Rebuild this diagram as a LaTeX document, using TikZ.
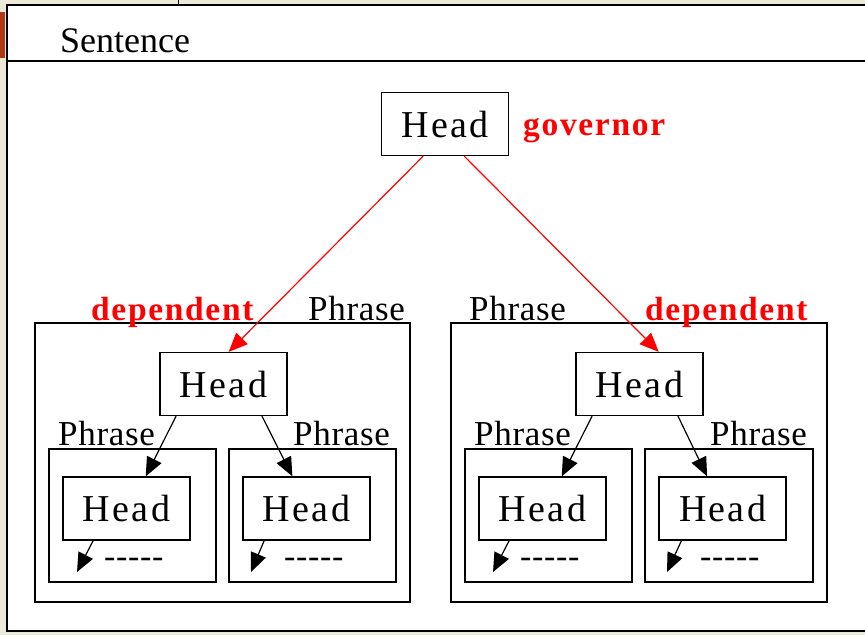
\documentclass[tikz,border=0pt]{standalone}
\usepackage{fontspec}
\setmainfont{Liberation Serif}
\newfontfamily\headfont[LetterSpace=6]{Liberation Serif}
\newfontfamily\labelfont[LetterSpace=2]{Liberation Serif}
\newfontfamily\rolefont[LetterSpace=5]{Liberation Serif Bold}
\usetikzlibrary{arrows.meta,calc}
\definecolor{winbeige}{RGB}{236,233,216}
\definecolor{rustred}{RGB}{175,55,20}
\tikzset{
  headbox/.style={draw, line width=1.2pt, minimum width=127pt, minimum height=63pt,
    inner sep=0pt, font=\headfont\fontsize{38}{40}\selectfont},
  phrasebox/.style={draw, line width=1.2pt, inner sep=0pt},
  phraselabel/.style={anchor=base west, inner sep=0pt, font=\labelfont\fontsize{35}{37}\selectfont},
  rolelabel/.style={anchor=base west, inner sep=0pt, text=red, font=\rolefont\fontsize{33.5}{35}\selectfont},
  govarrow/.style={draw=red, line width=1.2pt, -{Triangle[length=19pt,width=16pt]}},
  deparrow/.style={draw=black, line width=1.2pt, -{Triangle[length=19pt,width=16pt]}},
  dashtext/.style={anchor=base west, inner sep=0pt, font=\labelfont\fontsize{34}{36}\selectfont},
}
\begin{document}
\begin{tikzpicture}[x=1pt,y=-1pt]
\useasboundingbox (0,0) rectangle (865,635);
% window background and sentence frame
\fill[winbeige] (0,0) rectangle (865,635);
\fill[rustred] (0,12) rectangle (5,58);
\draw[line width=1pt] (178,0) -- (178,5);
\fill[white] (7,5) rectangle (866,631);
\draw[line width=2pt] (866,5) -- (7,5) -- (7,631) -- (866,631);
\draw[line width=2pt] (7,61) -- (866,61);
\node[anchor=base west, inner sep=0pt, font=\fontsize{36}{38}\selectfont] (sentence) at (60,52) {Sentence};

% governor
\node[headbox] (top) at (445,124) {Head};
\node[rolelabel] (gov) at (523,135) {governor};

% left phrase
\node[phrasebox, minimum width=375pt, minimum height=279pt] (lphrase) at (222.5,462.5) {};
\node[rolelabel] (ldep) at (91,320) {dependent};
\node[phraselabel] (lphraselbl) at (308,320) {Phrase};
\node[headbox] (lhead) at (223.5,384) {Head};

\node[phrasebox, minimum width=167pt, minimum height=133pt] (llbox) at (132.5,515.5) {};
\node[phraselabel] (lllbl) at (58,445) {Phrase};
\node[headbox] (llhead) at (126.5,508.5) {Head};
\node[dashtext] (lldash) at (104,567) {-{}-{}-{}-{}-};
\coordinate (lltip) at (77,572);

\node[phrasebox, minimum width=167pt, minimum height=133pt] (lrbox) at (312.5,515.5) {};
\node[phraselabel] (lrlbl) at (293,445) {Phrase};
\node[headbox] (lrhead) at (306.5,508.5) {Head};
\node[dashtext] (lrdash) at (284,567) {-{}-{}-{}-{}-};
\coordinate (lrtip) at (251,572);

% right phrase
\node[phrasebox, minimum width=376pt, minimum height=279pt] (rphrase) at (639,462.5) {};
\node[phraselabel] (rphraselbl) at (469,320) {Phrase};
\node[rolelabel] (rdep) at (645,320) {dependent};
\node[headbox] (rhead) at (639.5,384) {Head};

\node[phrasebox, minimum width=167pt, minimum height=133pt] (rlbox) at (548.5,515.5) {};
\node[phraselabel] (rllbl) at (474,445) {Phrase};
\node[headbox] (rlhead) at (542.5,508.5) {Head};
\node[dashtext] (rldash) at (520,567) {-{}-{}-{}-{}-};
\coordinate (rltip) at (493,572);

\node[phrasebox, minimum width=168pt, minimum height=133pt] (rrbox) at (729,515.5) {};
\node[phraselabel] (rrlbl) at (710,445) {Phrase};
\node[headbox] (rrhead) at (722.5,508.5) {Head};
\node[dashtext] (rrdash) at (700,567) {-{}-{}-{}-{}-};
\coordinate (rrtip) at (667,572);

% governor -> dependents
\draw[govarrow] ($(top.south west)!0.33!(top.south east)$) -- ($(lhead.north west)!0.54!(lhead.north east)$);
\draw[govarrow] ($(top.south west)!0.65!(top.south east)$) -- ($(rhead.north west)!0.65!(rhead.north east)$);

% heads -> inner heads
\draw[deparrow] ($(lhead.south west)!0.13!(lhead.south east)$) -- ($(llhead.north west)!0.65!(llhead.north east)$);
\draw[deparrow] ($(lhead.south west)!0.80!(lhead.south east)$) -- ($(lrhead.north west)!0.39!(lrhead.north east)$);
\draw[deparrow] ($(rhead.south west)!0.13!(rhead.south east)$) -- ($(rlhead.north west)!0.65!(rlhead.north east)$);
\draw[deparrow] ($(rhead.south west)!0.80!(rhead.south east)$) -- ($(rrhead.north west)!0.38!(rrhead.north east)$);

% inner heads -> further dependents
\draw[deparrow] ($(llhead.south west)!0.24!(llhead.south east)$) -- (lltip);
\draw[deparrow] ($(lrhead.south west)!0.17!(lrhead.south east)$) -- (lrtip);
\draw[deparrow] ($(rlhead.south west)!0.24!(rlhead.south east)$) -- (rltip);
\draw[deparrow] ($(rrhead.south west)!0.18!(rrhead.south east)$) -- (rrtip);
\end{tikzpicture}
\end{document}
